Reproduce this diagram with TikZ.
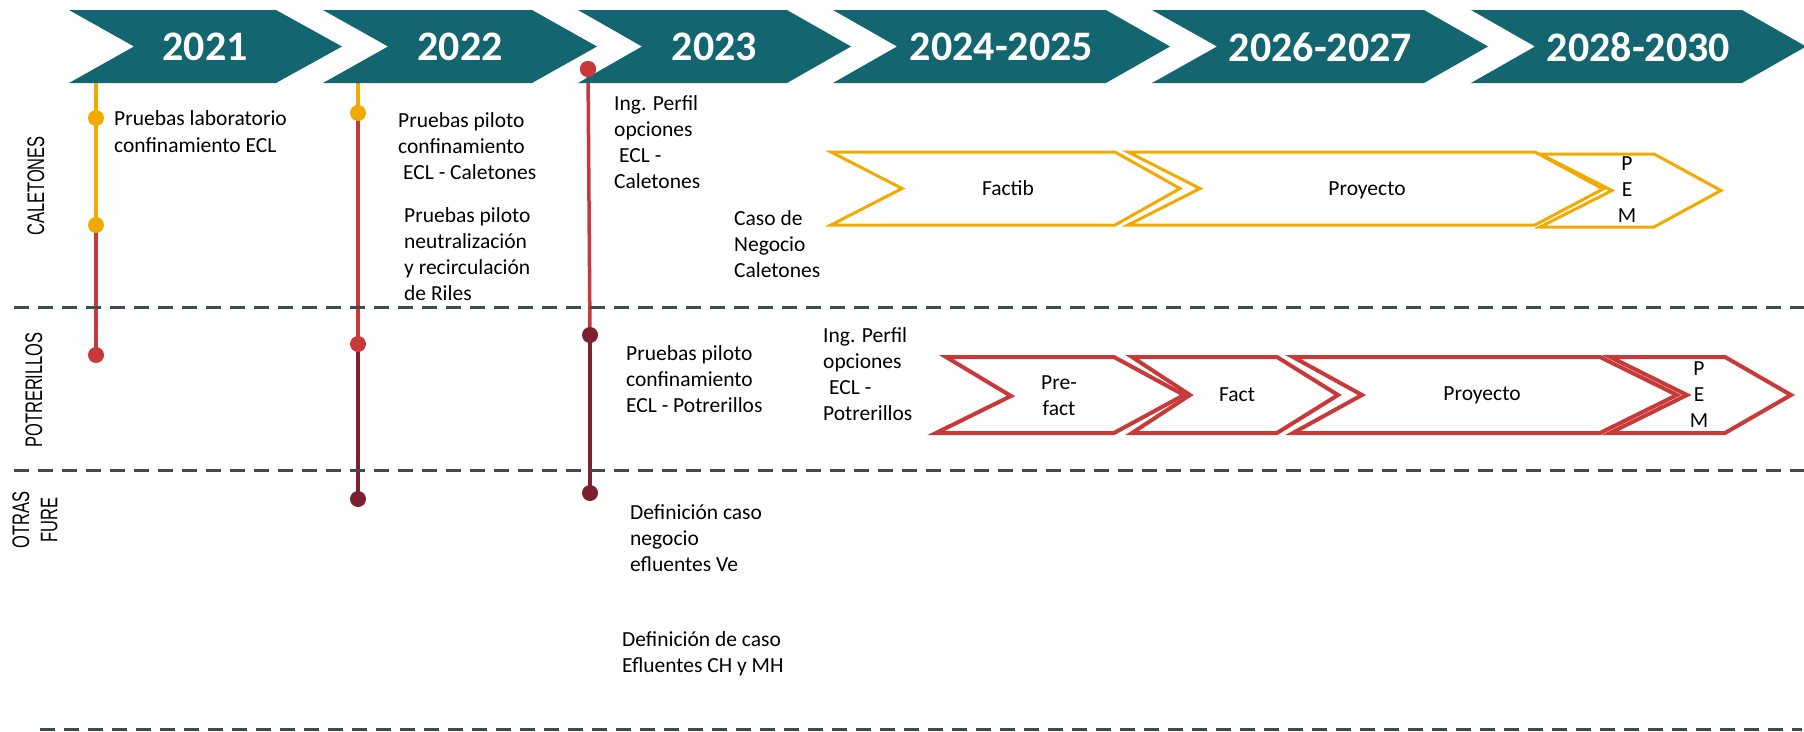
\documentclass[tikz,border=0pt]{standalone}
\usepackage{fontspec}
\setmainfont{Carlito}
\newfontfamily\arialf{Liberation Sans}
\usetikzlibrary{backgrounds}
\definecolor{tealc}{RGB}{19,101,111}
\definecolor{yelc}{RGB}{242,170,0}
\definecolor{redc}{RGB}{200,57,58}
\definecolor{maroonc}{RGB}{124,33,50}
\definecolor{sepc}{RGB}{62,75,85}
\tikzset{
  lbl/.style={font=\fontsize{21.5}{26}\selectfont, align=left, inner sep=0pt, anchor=west},
  ctr/.style={font=\fontsize{21.5}{26}\selectfont, align=center, inner sep=0pt},
  lane/.style={font=\arialf\fontsize{16.5}{19.5}\selectfont, rotate=90, yscale=1.45, align=center, inner sep=0pt},
  dot/.style={circle, minimum size=16pt, inner sep=0pt},
  yr/.style={font=\fontsize{42}{50}\selectfont\bfseries, text=white, inner sep=0pt},
  sepline/.style={draw=sepc, line width=3pt, dash pattern=on 15pt off 9pt},
  ychev/.style={draw=yelc, line width=3pt, fill=white, line join=miter},
  rchev/.style={draw=redc, line width=4pt, fill=white, line join=miter},
  vline/.style={line width=3.5pt}
}
\begin{document}
\begin{tikzpicture}[x=1pt,y=-1pt]
\useasboundingbox (0,0) rectangle (1804,731);

% separators
\draw[sepline] (14,307) -- (1804,307);
\draw[sepline] (14,470) -- (1804,470);
\draw[sepline] (40,729) -- (1802,729);

% lane labels
\node[lane] (lcal) at (36,186) {CALETONES};
\node[lane] (lpot) at (34,390) {POTRERILLOS};
\node[lane] (lotr) at (35,520) {OTRAS\\FURE};

% timeline dots
\coordinate (t21) at (96,80);
\node[dot, fill=yelc] (y21a) at (96,118) {};
\node[dot, fill=yelc] (y21b) at (96,225) {};
\node[dot, fill=redc] (r21) at (96,355) {};
\coordinate (t22) at (358,80);
\node[dot, fill=yelc] (y22) at (358,113) {};
\node[dot, fill=redc] (r22) at (358,344) {};
\node[dot, fill=maroonc] (m22) at (358,499) {};
\node[dot, fill=redc] (r23) at (588,69) {};
\node[dot, fill=maroonc] (m23a) at (590,335) {};
\node[dot, fill=maroonc] (m23b) at (590,493) {};

\begin{scope}[on background layer]
\draw[vline, yelc] (t21) -- (y21a.center);
\draw[vline, yelc] (y21a.center) -- (y21b.center);
\draw[vline, redc] (y21b.center) -- (r21.center);
\draw[vline, yelc] (t22) -- (y22.center);
\draw[vline, redc] (y22.center) -- (r22.center);
\draw[vline, maroonc] (r22.center) -- (m22.center);
\draw[vline, redc] (r23.center) -- (m23a.center);
\draw[vline, maroonc] (m23a.center) -- (m23b.center);
\end{scope}

% year chevrons
\foreach \l/\n/\b/\t/\yr in {69/134/276/342/2021, 323/388/532/597/2022, 578/642/787/851/2023, 833/897/1106/1170/2024-2025, 1152/1217/1424/1488/2026-2027, 1471/1535/1742/1806/2028-2030}{
  \fill[tealc] (\l,10) -- (\b,10) -- (\t,46.5) -- (\b,83) -- (\l,83) -- (\n,46.5) -- cycle;
  \node[yr] (yr\l) at ({(\n+\b)/2},47) {\yr};
}
% redraw 2023 dot on top
\node[dot, fill=redc] at (588,69) {};

% Caletones chevrons
\draw[ychev] (831,152) -- (1115,152) -- (1180,188.5) -- (1115,225) -- (831,225) -- (902,188.5) -- cycle;
\draw[ychev] (1128,152) -- (1535,152) -- (1603,189) -- (1535,225) -- (1128,225) -- (1200,188.5) -- cycle;
\draw[ychev] (1540,154) -- (1654,154) -- (1721,190.5) -- (1654,227) -- (1540,227) -- (1612,190.5) -- cycle;
\node[ctr] (cfac) at (1008,188) {Factib};
\node[ctr] (cpro) at (1367,190) {Proyecto};
\node[ctr] (cpem) at (1627,191) {\strut P\\E\\M\strut};

% Potrerillos chevrons
\draw[rchev] (946,357) -- (1114,357) -- (1184,395) -- (1114,433) -- (936,433) -- (1011,396) -- cycle;
\draw[rchev] (1132,357) -- (1277,357) -- (1338,395) -- (1277,433) -- (1132,433) -- (1190,395) -- cycle;
\draw[rchev] (1293,357) -- (1600,357) -- (1677,395) -- (1600,433) -- (1293,433) -- (1362,395) -- cycle;
\draw[rchev] (1610,357) -- (1725,357) -- (1791,395) -- (1725,433) -- (1610,433) -- (1687,395) -- cycle;
\node[ctr] (ppre) at (1059,397) {\strut Pre-\\fact\strut};
\node[ctr] (pfac) at (1237,395) {Fact};
\node[ctr] (ppro) at (1482,395) {Proyecto};
\node[ctr] (ppem) at (1699,396) {\strut P\\E\\M\strut};

% texts
\node[lbl, font=\fontsize{21.5}{27}\selectfont] (ta) at (114,133.5) {\strut Pruebas laboratorio\\confinamiento ECL\strut};
\node[lbl] (tb) at (398,148) {\strut Pruebas piloto\\confinamiento\\\hspace*{5pt}ECL - Caletones\strut};
\node[lbl] (tc) at (404,256) {\strut Pruebas piloto\\neutralización\\y recirculación\\de Riles\strut};
\node[lbl] (td) at (614,144) {\strut Ing. Perfil\\opciones\\\hspace*{5pt}ECL -\\Caletones\strut};
\node[lbl] (te) at (734,246.5) {\strut Caso de\\Negocio\\Caletones\strut};
\node[lbl] (tf) at (626,381) {\strut Pruebas piloto\\confinamiento\\ECL - Potrerillos\strut};
\node[lbl] (tg) at (823,376.5) {\strut Ing. Perfil\\opciones\\\hspace*{6pt}ECL -\\Potrerillos\strut};
\node[lbl] (th) at (630,540) {\strut Definición caso\\negocio\\efluentes Ve\strut};
\node[lbl] (ti) at (622,654.5) {\strut Definición de caso\\Efluentes CH y MH\strut};
\end{tikzpicture}
\end{document}
